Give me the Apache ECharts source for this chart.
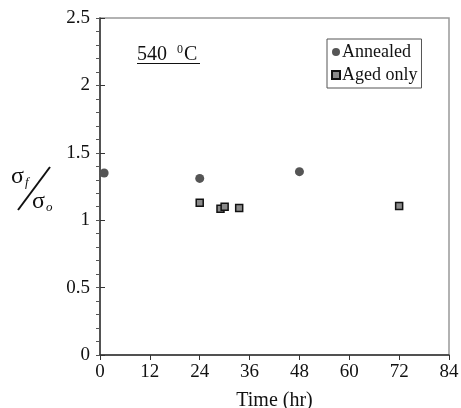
<!DOCTYPE html>
<html><head><meta charset="utf-8">
<script src="https://cdn.jsdelivr.net/npm/echarts@6/dist/echarts.min.js"></script>
<style>html,body{margin:0;padding:0;background:#fff}#c{width:461px;height:408px}</style>
</head><body><div id="c"></div>
<script>
const annealedTime = [1, 24, 48];
const annealedRatio = [1.35, 1.31, 1.36];
const agedTime = [24, 29, 30, 33.5, 72];
const agedRatio = [1.13, 1.085, 1.10, 1.09, 1.105];
const xTicks = [0, 12, 24, 36, 48, 60, 72, 84];
const yTicks = [0, 0.5, 1, 1.5, 2, 2.5];

const F = 'Liberation Serif';
const chart = echarts.init(document.getElementById('c'));
chart.setOption({
  animation: false,
  grid: {left: 100, right: 12, top: 18, bottom: 53, outerBoundsMode: 'none', containLabel: false, show: true, borderColor: '#999', borderWidth: 1.5},
  legend: {
    left: 327, top: 39, orient: 'vertical', borderColor: '#555', borderWidth: 1,
    padding: [4, 4, 4, 4], itemGap: 5, itemWidth: 8, itemHeight: 8,
    textStyle: {fontFamily: F, fontSize: 18, color: '#111', padding: [0, 0, 0, -3]},
    data: [{name: 'Annealed', icon: 'circle'}, {name: 'Aged only', icon: 'rect'}]
  },
  xAxis: {
    type: 'value', min: xTicks[0], max: xTicks[xTicks.length - 1], interval: 12,
    name: 'Time (hr)', nameLocation: 'middle', nameGap: 36,
    nameTextStyle: {fontFamily: F, fontSize: 20, color: '#111'},
    axisLine: {lineStyle: {color: '#333', width: 1.5}},
    axisTick: {inside: false, length: 5, lineStyle: {color: '#333'}},
    axisLabel: {fontFamily: F, fontSize: 19, color: '#111', margin: 8},
    splitLine: {show: false}
  },
  yAxis: [{
    type: 'value', min: yTicks[0], max: yTicks[yTicks.length - 1], interval: 0.5,
    axisLine: {lineStyle: {color: '#333', width: 1.5}},
    axisTick: {inside: true, length: 5, lineStyle: {color: '#333'}},
    axisLabel: {fontFamily: F, fontSize: 19, color: '#111', margin: 10},
    splitLine: {show: false}
  }, {
    type: 'value', min: 0, max: 2.5, interval: 0.1, position: 'left',
    axisLine: {show: false},
    axisTick: {inside: false, length: 4, lineStyle: {color: '#555'}},
    axisLabel: {show: false}, splitLine: {show: false}
  }],
  series: [{
    name: 'Annealed', type: 'scatter', symbol: 'circle', symbolSize: 9,
    itemStyle: {color: '#555', opacity: 1},
    data: annealedTime.map((t, i) => [t, annealedRatio[i]])
  }, {
    name: 'Aged only', type: 'scatter', symbol: 'rect', symbolSize: 7,
    itemStyle: {color: '#8a8a8a', borderColor: '#111', borderWidth: 1.5, opacity: 1},
    data: agedTime.map((t, i) => [t, agedRatio[i]])
  }],
  graphic: [
    {type: 'text', left: 137, top: 44, style: {
      text: '{n|540  }{s|0}{n|C}', fill: '#111',
      rich: {n: {fontFamily: F, fontSize: 20, fill: '#111'}, s: {fontFamily: F, fontSize: 12, fill: '#111', verticalAlign: 'top', padding: [0, 1, 9, 0]}}
    }},
    {type: 'line', shape: {x1: 137, y1: 63.5, x2: 200, y2: 63.5}, style: {stroke: '#111', lineWidth: 1.2}},
    {type: 'text', left: 11, top: 165, style: {
      text: '{g|σ}{sub|f}', rich: {g: {fontFamily: F, fontSize: 24, fill: '#111'}, sub: {fontFamily: F, fontSize: 13, fill: '#111', fontStyle: 'italic', padding: [12, 0, 0, 1]}}
    }},
    {type: 'line', shape: {x1: 18, y1: 210, x2: 50, y2: 167}, style: {stroke: '#111', lineWidth: 2}},
    {type: 'text', left: 32, top: 190, style: {
      text: '{g|σ}{sub|o}', rich: {g: {fontFamily: F, fontSize: 24, fill: '#111'}, sub: {fontFamily: F, fontSize: 13, fill: '#111', fontStyle: 'italic', padding: [12, 0, 0, 1]}}
    }}
  ]
});
</script></body></html>
